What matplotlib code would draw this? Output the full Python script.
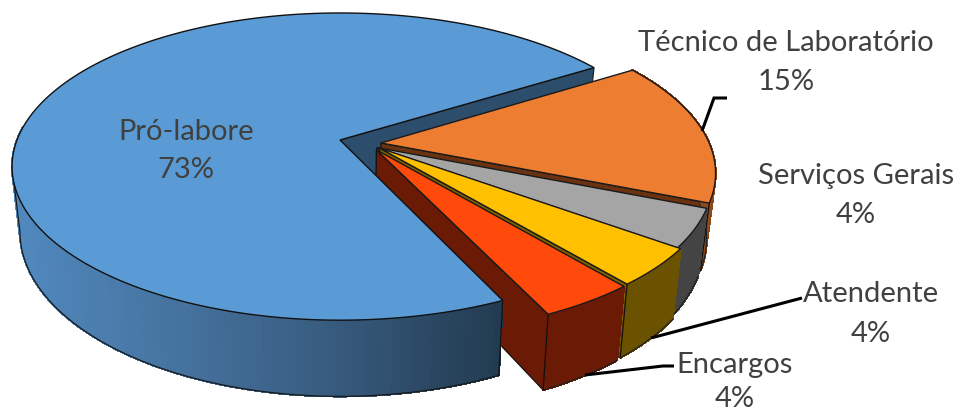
import numpy as np
import matplotlib
matplotlib.use('Agg')
import matplotlib.pyplot as plt
from matplotlib.colors import to_rgb

# slices, in the order they run clockwise from the start angle
labels = ['Técnico de Laboratório', 'Serviços Gerais', 'Atendente', 'Encargos']
values = [15, 4, 4, 4]
main_label = 'Pró-labore'
main_value = 73

top_colors = ['#ED7D31', '#A5A5A5', '#FFC000', '#FF4A0B']
side_colors = ['#6B3212', '#333333', '#7F6000', '#6B1A05']
rim_colors = ['#8A4A1C', '#444444', '#6B5200', '#6B1A05']
# how far each slice is pulled out, in disc units
pulls = [(0.125, -0.020), (0.112, -0.050), (0.120, -0.054), (0.110, -0.065)]

start_deg = 32.0
cx, cy = 340.0, 140.0
a_right, a_left = 327.0, 323.0
b = 149.0
persp = 0.173
depth = 63.0
text_col = '#404040'


def proj(X, Y, z=0.0):
    # disc coordinates -> pixels, z=1 is the underside of the pie
    X, Y = np.asarray(X, float), np.asarray(Y, float)
    s = 1.0 / (1.0 + persp * Y)
    a = np.where(X < 0, a_left, a_right)
    x = cx + a * X * s * (1 - 0.024 * z)
    y = cy - b * Y * s + depth * z * s
    return np.column_stack((x, y))


def arc(t0, t1, off=(0, 0), z=0.0, n=120):
    t = np.radians(np.linspace(t0, t1, n))
    return proj(np.cos(t) + off[0], np.sin(t) + off[1], z)


def draw_rim(ax, t0, t1, off, color_at, zo):
    top = arc(t0, t1, off)
    bot = arc(t0, t1, off, 1.0)
    for i in range(len(top) - 1):
        quad = np.vstack((top[i], top[i + 1], bot[i + 1], bot[i]))
        c = color_at(quad[:, 0].mean())
        # no antialiasing here, otherwise the seams between the bands show
        ax.fill(quad[:, 0], quad[:, 1], fc=c, ec=c, lw=1.0, antialiased=False, zorder=zo)


def blue_rim_color(x):
    stops_x = [16, 200, 350, 500]
    stops_c = ['#5189BF', '#44709B', '#35587A', '#223B50']
    rgb = [to_rgb(c) for c in stops_c]
    return tuple(np.interp(x, stops_x, [c[i] for c in rgb]) for i in range(3))


fig = plt.figure(figsize=(9.58, 4.12), dpi=100)
ax = fig.add_axes([0, 0, 1, 1])
ax.set_xlim(0, 958)
ax.set_ylim(412, 0)
ax.axis('off')
plt.rcParams['font.family'] = ['Lato', 'DejaVu Sans']

total = main_value + sum(values)
main_end = start_deg + 360.0 * main_value / total

# back wall of the notch in the big slice
apex = proj(0, 0)[0]
corner = arc(start_deg, start_deg, n=1)[0]
corner_low = arc(start_deg, start_deg, z=1.0, n=1)[0]
wall = np.vstack((apex, corner, corner_low, proj(0, 0, 1.0)[0]))
ax.fill(wall[:, 0], wall[:, 1], fc='#2C4D6C', ec='#1A1A1A', lw=0.8, zorder=1)

# pulled out slices, back to front
t = start_deg
zo = 2
for val, top_c, side_c, rim_c, off in zip(values, top_colors, side_colors, rim_colors, pulls):
    t_end = t - 360.0 * val / total
    ap = proj(off[0], off[1])[0]
    ap_low = proj(off[0], off[1], 1.0)[0]
    end_top = arc(t_end, t_end, off, n=1)[0]
    end_low = arc(t_end, t_end, off, 1.0, n=1)[0]
    side = np.vstack((ap, end_top, end_low, ap_low))
    ax.fill(side[:, 0], side[:, 1], fc=side_c, ec='#111111', lw=0.9, zorder=zo)
    draw_rim(ax, t_end, t, off, lambda x, c=rim_c: c, zo + 0.1)
    low = arc(t_end, t, off, 1.0)
    ax.plot(low[:, 0], low[:, 1], color='#222222', lw=0.9, zorder=zo + 0.2)
    ax.plot([end_top[0], end_low[0]], [end_top[1], end_low[1]], color='#111111', lw=0.9, zorder=zo + 0.2)
    face = np.vstack((ap, arc(t_end, t, off)))
    ax.fill(face[:, 0], face[:, 1], fc=top_c, ec='#1A1A1A', lw=1.0, zorder=zo + 0.3)
    t = t_end
    zo += 1

# big slice goes over the others, its notch edge hides their lower walls
draw_rim(ax, 175, main_end, (0, 0), blue_rim_color, 10)
low = arc(190, main_end, z=1.0)
top_left = arc(190, 190, n=1)
edge = np.vstack((top_left, low))
ax.plot(edge[:, 0], edge[:, 1], color='#1A1A1A', lw=0.9, zorder=11)
end_top = arc(main_end, main_end, n=1)[0]
end_low = arc(main_end, main_end, z=1.0, n=1)[0]
ax.plot([end_top[0], end_low[0]], [end_top[1], end_low[1]], color='#111111', lw=0.9, zorder=11)
face = np.vstack((apex, arc(start_deg, main_end, n=300)))
ax.fill(face[:, 0], face[:, 1], fc='#5B9BD5', ec='#111111', lw=1.0, zorder=12)

# leader lines
leaders = [
    ([702, 714, 727], [131, 98, 98]),
    ([651, 802], [338, 298]),
    ([585, 663, 674], [375, 366, 366]),
]
for xs, ys in leaders:
    ax.plot(xs, ys, color='black', lw=2.2, solid_capstyle='butt', solid_joinstyle='miter', zorder=13)

# labels
fs = 21
pct = lambda v: f'{round(100 * v / total)}%'
names = [main_label] + labels
vals = [main_value] + values
name_pos = [(186, 132), (786, 43), (856, 176), (871, 294), (735, 365)]
pct_pos = [(186, 170), (786, 82), (856, 215), (871, 334), (735, 399)]
for n, v, p1, p2 in zip(names, vals, name_pos, pct_pos):
    ax.text(p1[0], p1[1], n, color=text_col, fontsize=fs, ha='center', va='center', zorder=14)
    ax.text(p2[0], p2[1], pct(v), color=text_col, fontsize=fs, ha='center', va='center', zorder=14)

fig.savefig('out.png', dpi=100)
